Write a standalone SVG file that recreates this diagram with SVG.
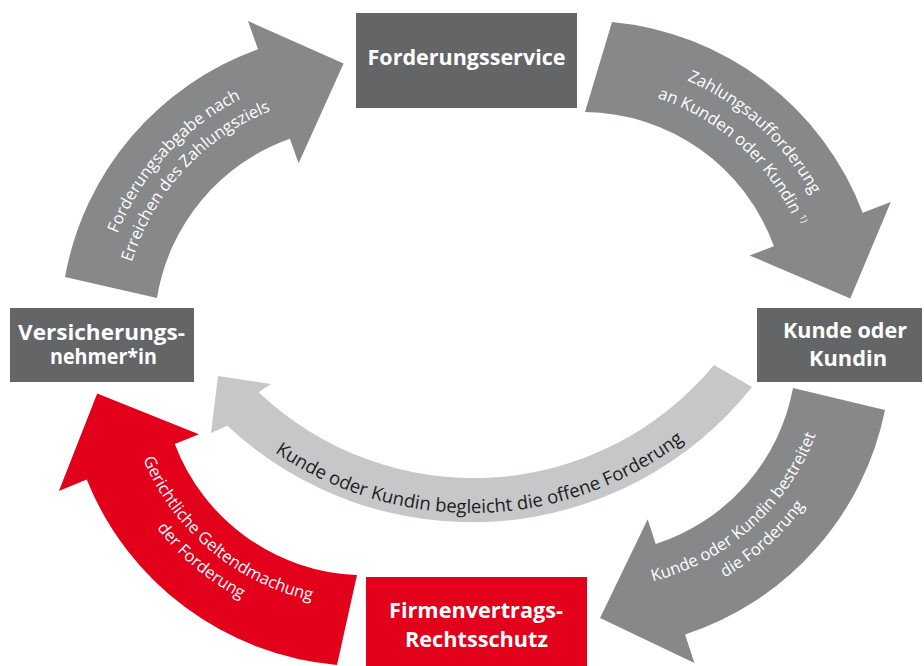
<svg xmlns="http://www.w3.org/2000/svg" width="924" height="666" viewBox="0 0 924 666">
<style>
.box{fill:#646567}
.boxr{fill:#e2001a}
.lbl{font-family:"Open Sans","Noto Sans","Liberation Sans",sans-serif;font-weight:700;font-size:21px;fill:#ffffff;text-anchor:middle}
.arr{fill:#87888a}
.arrr{fill:#e2001a}
.arrl{fill:#c6c7c9}
.at{font-family:"Open Sans","Noto Sans","Liberation Sans",sans-serif;font-size:16.5px;fill:#ffffff}
.atk{font-family:"Open Sans","Noto Sans","Liberation Sans",sans-serif;font-size:18.5px;fill:#1d1d1b}
</style>
<defs>
<path id="p1a" d="M99.9,307.4 A259 259 0 0 1 313.0,74.9"/>
<path id="p1b" d="M122.9,309.4 A236 236 0 0 1 317.0,97.6"/>
<path id="p2a" d="M606.6,60.0 A259 259 0 0 1 839.1,273.0"/>
<path id="p2b" d="M604.2,87.0 A232 232 0 0 1 812.5,277.7"/>
<path id="p3a" d="M613.7,588.1 A238 238 0 0 0 826.6,396.4"/>
<path id="p3b" d="M615.8,612.0 A262 262 0 0 0 850.2,401.0"/>
<path id="p4a" d="M131.1,421.5 A238 238 0 0 0 350.5,605.7"/>
<path id="p4b" d="M108.7,426.7 A261 261 0 0 0 349.3,628.6"/>
<path id="p5" d="M202.6,386.5 A349 349 0 0 0 752.4,371.1"/>
</defs>
<g id="connectors">
<g id="c1">
<path class="arr" d="M65,277 A298 298 0 0 1 258,49.3 L248,21 L343.6,63.4 L298.6,163.2 L289.9,138.8 A203 203 0 0 0 157,298 Z"/>
<text class="at"><textPath href="#p1a" startOffset="50%" text-anchor="middle">Forderungsabgabe nach</textPath></text>
<text class="at"><textPath href="#p1b" startOffset="50%" text-anchor="middle">Erreichen des Zahlungsziels</textPath></text>
</g>
<g id="c2">
<path class="arr" d="M612,22 A298 298 0 0 1 862.7,212.7 L890.8,202.1 L850.3,298.5 L749.6,255.4 L773.9,246.2 A203 203 0 0 0 585,112 Z"/>
<text class="at"><textPath href="#p2a" startOffset="50%" text-anchor="middle">Zahlungsaufforderung</textPath></text>
<text class="at"><textPath href="#p2b" startOffset="50%" text-anchor="middle">an Kunden oder Kundin <tspan font-size="9" dy="-6">1)</tspan></textPath></text>
</g>
<g id="c3">
<path class="arr" d="M885,410 A298 298 0 0 1 685.1,634.4 L694.4,662.9 L600,617.9 L647.7,519.3 L655.7,544.1 A203 203 0 0 0 793,388 Z"/>
<text class="at"><textPath href="#p3a" startOffset="50%" text-anchor="middle">Kunde oder Kundin bestreitet</textPath></text>
<text class="at"><textPath href="#p3b" startOffset="50%" text-anchor="middle">die Forderung</textPath></text>
</g>
<g id="c4">
<path class="arrr" d="M337,665 A298 298 0 0 1 86.7,479.6 L58.9,490.9 L97.2,393.6 L198.9,434.3 L174.8,444 A203 203 0 0 0 357,575 Z"/>
<text class="at"><textPath href="#p4a" startOffset="50%" text-anchor="middle">Gerichtliche Geltendmachung</textPath></text>
<text class="at"><textPath href="#p4b" startOffset="50%" text-anchor="middle">der Forderung</textPath></text>
</g>
<g id="c5">
<path class="arrl" d="M752,387 A358 358 0 0 1 227.3,425.8 L211,433 L218,376 L271,384 L258.7,392.2 A312 312 0 0 0 714,365 Z"/>
<text class="atk"><textPath href="#p5" startOffset="50%" text-anchor="middle">Kunde oder Kundin begleicht die offene Forderung</textPath></text>
</g>
</g>
<g id="forderungsservice">
<rect class="box" x="356" y="13" width="221" height="95"/>
<text class="lbl" x="466.5" y="65" textLength="198" lengthAdjust="spacingAndGlyphs">Forderungsservice</text>
</g>
<g id="versicherungsnehmer">
<rect class="box" x="10" y="308" width="184" height="74"/>
<text class="lbl" x="101.5" y="340" textLength="167" lengthAdjust="spacingAndGlyphs">Versicherungs-</text>
<text class="lbl" x="103.5" y="364" textLength="107" lengthAdjust="spacingAndGlyphs">nehmer*in</text>
</g>
<g id="kunde">
<rect class="box" x="757" y="308" width="165" height="74"/>
<text class="lbl" x="845" y="338" textLength="124" lengthAdjust="spacingAndGlyphs">Kunde oder</text>
<text class="lbl" x="848" y="366" textLength="78" lengthAdjust="spacingAndGlyphs">Kundin</text>
</g>
<g id="firmenvertrag">
<rect class="boxr" x="366" y="577" width="221" height="89"/>
<text class="lbl" x="476" y="618" textLength="174" lengthAdjust="spacingAndGlyphs">Firmenvertrags-</text>
<text class="lbl" x="476.5" y="647" textLength="143" lengthAdjust="spacingAndGlyphs">Rechtsschutz</text>
</g>
</svg>
